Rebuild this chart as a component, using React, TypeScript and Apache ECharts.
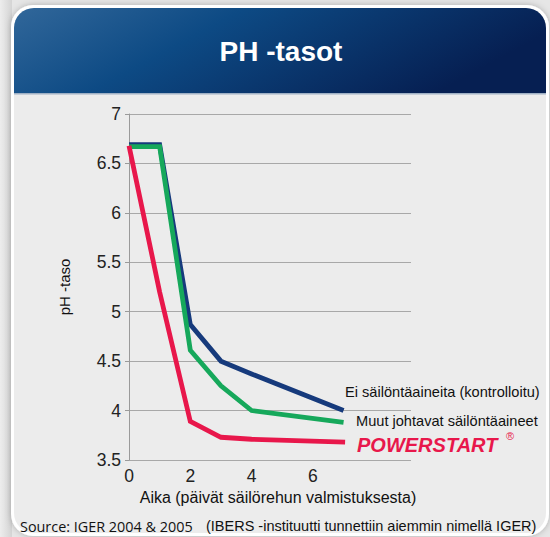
import React, { useEffect, useRef } from "react";
import * as echarts from "echarts";

const title = "PH -tasot";
const xAxisName = "Aika (päivät säilörehun valmistuksesta)";
const yAxisName = "pH -taso";
const yTicks = [3.5, 4, 4.5, 5, 5.5, 6, 6.5, 7];
const xTickLabels = [0, 2, 4, 6];

const controlName = "Ei säilöntäaineita (kontrolloitu)";
const otherName = "Muut johtavat säilöntäaineet";
const powerName = "POWERSTART";

const controlData: [number, number][] = [
  [0, 6.69], [1, 6.69], [2, 4.87], [3, 4.5], [4, 4.37], [7, 4.0],
];
const otherData: [number, number][] = [
  [0, 6.67], [1, 6.67], [2, 4.61], [3, 4.25], [4, 4.0], [7, 3.88],
];
const powerData: [number, number][] = [
  [0, 6.68], [1, 5.2], [2, 3.89], [3, 3.73], [4, 3.71], [7.05, 3.68],
];
const sourceMain = "Source: IGER 2004 & 2005";
const sourceNote = "(IBERS -instituutti tunnettiin aiemmin nimellä IGER)";

export default function App() {
  const ref = useRef<HTMLDivElement>(null);
  useEffect(() => {
    if (!ref.current) return;
    const chart = echarts.init(ref.current, null, { renderer: "svg" });
    const lineSeries = (name: string, data: [number, number][], color: string) => ({
      type: "line",
      name,
      data,
      showSymbol: false,
      symbol: "none",
      lineStyle: { color, width: 4.8, join: "miter" },
      z: 3,
    });
    chart.setOption({
      animation: false,
      backgroundColor: "#e6e6e6",
      grid: { left: 129, right: 139, top: 114, bottom: 77 },
      xAxis: {
        type: "value",
        min: 0,
        max: 9.2,
        interval: 2,
        axisLine: { show: false },
        axisTick: { show: false },
        splitLine: { show: false },
        axisLabel: {
          color: "#222",
          fontSize: 17.5,
          fontFamily: "Liberation Sans, Arial, sans-serif",
          margin: 7,
          formatter: (v: number) => (xTickLabels.indexOf(v) >= 0 ? String(v) : ""),
        },
      },
      yAxis: {
        type: "value",
        min: yTicks[0],
        max: yTicks[yTicks.length - 1],
        interval: 0.5,
        name: yAxisName,
        nameLocation: "middle",
        nameGap: 57,
        nameTextStyle: { color: "#111", fontSize: 15, fontFamily: "Liberation Sans, Arial, sans-serif" },
        axisLine: { show: true, lineStyle: { color: "#9a9a9a", width: 1 } },
        axisTick: { show: true, length: 4, lineStyle: { color: "#9a9a9a" } },
        splitLine: { show: true, lineStyle: { color: "#a8a8a8", width: 1.2 } },
        axisLabel: {
          color: "#222",
          fontSize: 17.5,
          fontFamily: "Liberation Sans, Arial, sans-serif",
          margin: 8,
        },
      },
      series: [
        lineSeries(controlName, controlData, "#163a7c"),
        lineSeries(otherName, otherData, "#16a85b"),
        lineSeries(powerName, powerData, "#e8174b"),
      ],
      graphic: [
        {
          type: "rect",
          z: -20,
          shape: { x: 0, y: 0, width: 12, height: 537 },
          style: {
            fill: new echarts.graphic.LinearGradient(0, 0, 1, 0, [
              { offset: 0, color: "#ededed" },
              { offset: 1, color: "#d4d4d4" },
            ]),
          },
          silent: true,
        },
        {
          type: "rect",
          z: -19,
          shape: { x: 11, y: 5, width: 538, height: 531, r: 22 },
          style: { fill: "#ffffff", shadowBlur: 6, shadowColor: "rgba(0,0,0,0.25)" },
          silent: true,
        },
        {
          type: "rect",
          z: -18,
          shape: { x: 14, y: 8, width: 532, height: 525, r: 20 },
          style: { fill: "#ececec" },
          silent: true,
        },
        {
          type: "rect",
          z: -17,
          shape: { x: 14, y: 8, width: 532, height: 86, r: [20, 20, 0, 0] },
          style: {
            fill: new echarts.graphic.LinearGradient(0, 0, 1, 0.3, [
              { offset: 0, color: "#31679a" },
              { offset: 0.4, color: "#0d4a84" },
              { offset: 1, color: "#061f52" },
            ]),
          },
          silent: true,
        },
        {
          type: "rect",
          z: -17,
          shape: { x: 14, y: 93, width: 532, height: 1.5 },
          style: { fill: "#9fb0c4" },
          silent: true,
        },
        {
          type: "text",
          z: 10,
          x: 281,
          y: 51,
          style: {
            text: title,
            fill: "#ffffff",
            font: "bold 28px 'Liberation Sans', Arial, sans-serif",
            align: "center",
            verticalAlign: "middle",
          },
        },
        {
          type: "text",
          z: 10,
          x: 278,
          y: 497,
          style: {
            text: xAxisName,
            fill: "#111",
            font: "16px 'Liberation Sans', Arial, sans-serif",
            align: "center",
            verticalAlign: "middle",
          },
        },
        {
          type: "text",
          z: 10,
          x: 345,
          y: 392,
          style: {
            text: controlName,
            fill: "#111",
            font: "14.6px 'Liberation Sans', Arial, sans-serif",
            align: "left",
            verticalAlign: "middle",
          },
        },
        {
          type: "text",
          z: 10,
          x: 356,
          y: 421,
          style: {
            text: otherName,
            fill: "#111",
            font: "14.6px 'Liberation Sans', Arial, sans-serif",
            align: "left",
            verticalAlign: "middle",
          },
        },
        {
          type: "text",
          z: 10,
          x: 357,
          y: 445,
          style: {
            text: powerName,
            fill: "#e8174b",
            font: "italic bold 20px 'Liberation Sans', Arial, sans-serif",
            align: "left",
            verticalAlign: "middle",
          },
        },
        {
          type: "text",
          z: 10,
          x: 510,
          y: 436,
          style: {
            text: "®",
            fill: "#e8174b",
            font: "11px 'Liberation Sans', Arial, sans-serif",
            align: "center",
            verticalAlign: "middle",
          },
        },
        {
          type: "text",
          z: 10,
          x: 20,
          y: 526,
          style: {
            text: sourceMain,
            fill: "#111",
            font: "14.4px 'Open Sans', 'Noto Sans', sans-serif",
            align: "left",
            verticalAlign: "middle",
          },
        },
        {
          type: "text",
          z: 10,
          x: 206,
          y: 526,
          style: {
            text: sourceNote,
            fill: "#111",
            font: "14.5px 'Liberation Sans', Arial, sans-serif",
            align: "left",
            verticalAlign: "middle",
          },
        },
      ],
    });
    return () => chart.dispose();
  }, []);
  return (
    <div
      ref={ref}
      style={{ position: "fixed", left: 0, top: 0, width: 550, height: 537 }}
    />
  );
}
